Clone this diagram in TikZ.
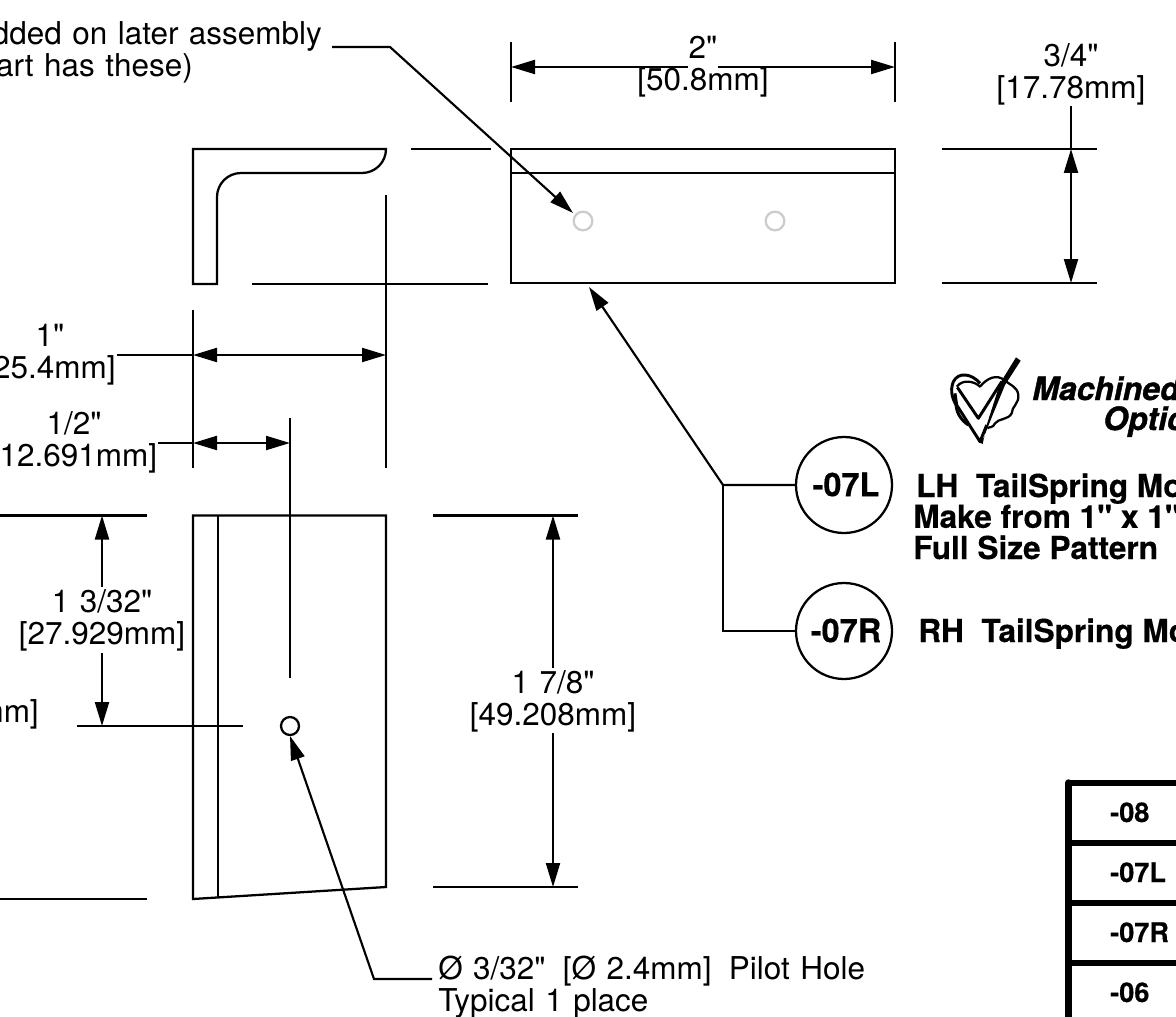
\documentclass[tikz,border=0pt]{standalone}
\usepackage{fontspec}
\setmainfont[Ligatures=TeXOff,WordSpace=1.2]{TeX Gyre Heros}
\newfontfamily\heavyfont[FakeBold=0.4]{TeX Gyre Heros Bold}
\newfontfamily\logofont[FakeBold=1.2]{TeX Gyre Heros Bold Italic}
\usetikzlibrary{arrows.meta}
\tikzset{
  outline/.style={line width=1.7pt,black},
  dimtip/.style={line width=1.6pt,{Triangle[length=18pt,width=10.5pt]}-},
  dimtipboth/.style={line width=1.6pt,{Triangle[length=18pt,width=10.5pt]}-{Triangle[length=18pt,width=10.5pt]}},
  tipend/.style={line width=1.6pt,-{Triangle[length=18pt,width=10.5pt]}},
  dimtext/.style={font=\fontsize{23.6}{24}\selectfont,inner sep=0pt,align=center,anchor=base},
  lefttext/.style={font=\fontsize{23.6}{24}\selectfont,inner sep=0pt,align=left,anchor=base west},
  righttext/.style={font=\fontsize{23.6}{24}\selectfont,inner sep=0pt,anchor=base east},
  boldtext/.style={font=\fontsize{23.7}{23.4}\selectfont\heavyfont,inner sep=0pt,align=left,anchor=base west},
  tabletext/.style={font=\fontsize{20.3}{20}\selectfont\heavyfont,inner sep=0pt,anchor=base west},
  logotext/.style={font=\fontsize{24}{24}\selectfont\logofont,inner sep=0pt,anchor=base west},
  callout/.style={circle,draw,line width=1.7pt,minimum size=72pt,inner sep=0pt,
    text height=17pt,font=\fontsize{24.4}{24}\selectfont\heavyfont},
  hole/.style={circle,draw,line width=1.7pt,minimum size=14pt,inner sep=0pt},
  graybore/.style={hole,draw=black!20},
  tablerule/.style={line width=3.8pt},
}
\begin{document}
\begin{tikzpicture}[x=0.75pt,y=-0.75pt]
\useasboundingbox (0,0) rectangle (1176,1016);
\fill[white] (0,0) rectangle (1176,1016);
\clip (0,0) rectangle (1176,1016);

% end profile
\draw[outline] (193,284) -- (193,149) -- (386,149)
  arc[start angle=0,end angle=90,radius=24] -- (241,173)
  arc[start angle=270,end angle=180,radius=24] -- (217,284) -- cycle;
\draw[outline] (411,149) -- (491,149);
\draw[outline] (252,284) -- (488,284);
\draw[outline] (386,195) -- (386,468);
\draw[outline] (193,310) -- (193,468);

% top-right view
\draw[outline,line width=1.9pt] (511,149) rectangle (895,283);
\draw[outline] (511,173) -- (895,173);
\node[graybore] (boreA) at (583,221) {};
\node[graybore] (boreB) at (775,221) {};
\draw[outline] (511,42) -- (511,102);
\draw[outline] (895,42) -- (895,102);
\draw[dimtip] (511,67) -- (688,67);
\draw[dimtip] (895,67) -- (718,67);
\node[dimtext] (dimA) at (703,91) {2"\\{}[50.8mm]};

\draw[outline] (942,149) -- (1097,149);
\draw[outline] (942,283) -- (1097,283);
\draw[dimtipboth] (1071,149) -- (1071,283);
\draw[line width=1.6pt] (1071,106) -- (1071,149);
\node[dimtext] (dimB) at (1071,99) {3/4"\\{}[17.78mm]};

% horizontal dims of the bottom view
\draw[line width=1.6pt] (117,355) -- (193,355);
\draw[dimtipboth] (193,355) -- (386,355);
\node[dimtext] (dimC) at (50,378) {1"\\{}[25.4mm]};
\draw[line width=1.6pt] (158,443) -- (193,443);
\draw[dimtipboth] (193,443) -- (290,443);
\draw[outline] (290,418) -- (290,678);
\node[dimtext] (dimD) at (74,466) {1/2"\\{}[12.691mm]};

% bottom view
\draw[outline] (193,515.5) -- (386,515.5) -- (386,887) -- (193,899) -- cycle;
\draw[outline] (218,515.5) -- (218,898);
\node[hole,minimum size=13.5pt] (pilot) at (290,726) {};
\draw[outline] (0,515.5) -- (147,515.5);
\draw[outline] (0,899) -- (147,899);
\draw[outline] (77,726) -- (243,726);
\draw[outline] (433,515.5) -- (578,515.5);
\draw[outline] (433,887) -- (578,887);
\draw[dimtip] (102,515.5) -- (102,587);
\draw[dimtip] (102,726) -- (102,653);
\node[dimtext] (dimE) at (102,644) {1 3/32"\\{}[27.929mm]};
\node[righttext] (dimF) at (39,722) {mm]};
\draw[dimtip] (553,515.5) -- (553,668);
\draw[dimtip] (553,887) -- (553,733);
\node[dimtext] (dimG) at (553,725) {1 7/8"\\{}[49.208mm]};

% leaders
\node[righttext] (noteA) at (322,45) {dded on later assembly};
\node[righttext] (noteB) at (193,77) {art has these)};
\coordinate (kneeA) at (390,47);
\draw[tipend] (332,47) -- (kneeA) -- (573,213);
\node[lefttext] (pilotnote) at (438,1011) {Ø 3/32"\hspace{13pt}[Ø 2.4mm]\hspace{13pt}Pilot Hole\\Typical 1 place};
\coordinate (kneeB) at (374,979);
\draw[tipend] (432,979) -- (kneeB) -- (290,736);

% callouts
\node[callout] (cL) at (844,485) {\hspace{3pt}-07L};
\node[callout] (cR) at (844,631) {\hspace{3pt}-07R};
\coordinate (kneeC) at (723,485);
\draw[tipend] (cL.west) -- (kneeC) -- (589,287);
\draw[line width=1.6pt] (kneeC) |- (cR.west);
\node[boldtext] (lhA) at (916,497) {LH\ \ TailSpring Mo};
\node[boldtext] (lhB) at (913,559) {Make from 1" x 1"\\Full Size Pattern};
\node[boldtext] (rhA) at (918,642) {RH\ \ TailSpring Mo};

% logo
\node[logotext] (logoA) at (1032,400) {Machined};
\node[logotext] (logoB) at (1103,430) {Optic};
\begin{scope}[shift={(930,350)},x=0.25pt,y=-0.25pt]
  \draw[line width=2.2pt,line join=round]
    (150,100) .. controls (125,70) and (85,65) .. (70,95)
    .. controls (58,125) and (70,150) .. (78,165)
    .. controls (80,195) and (100,215) .. (115,225);
  \draw[line width=1.7pt,line join=round]
    (80,110) .. controls (100,85) and (135,95) .. (150,110)
    .. controls (170,85) and (200,70) .. (225,92)
    .. controls (240,105) and (262,110) .. (265,135)
    .. controls (268,160) and (245,170) .. (245,190)
    .. controls (235,210) and (205,205) .. (195,220)
    .. controls (190,235) and (175,230) .. (172,235);
  \draw[line width=2.2pt,line join=round] (82,112) -- (145,205) -- (215,95);
  \draw[line width=2.2pt,line join=round] (75,130) -- (80,165) -- (150,275) -- (170,225);
  \fill (272,32) -- (258,22) -- (210,100) -- (170,225) -- (158,282) -- (144,275) -- (160,265) -- (190,190) -- (225,105) -- cycle;
\end{scope}

% table
\draw[line width=5.6pt,line cap=round] (1068.5,783) -- (1068.5,1030);
\draw[tablerule] (1068,783) -- (1176,783);
\draw[tablerule] (1068,843) -- (1176,843);
\draw[tablerule] (1068,903) -- (1176,903);
\draw[tablerule] (1068,963) -- (1176,963);
\node[tabletext] (t1) at (1110,822) {-08};
\node[tabletext] (t2) at (1110,882) {-07L};
\node[tabletext] (t3) at (1110,942) {-07R};
\node[tabletext] (t4) at (1110,1002) {-06};
\end{tikzpicture}
\end{document}
